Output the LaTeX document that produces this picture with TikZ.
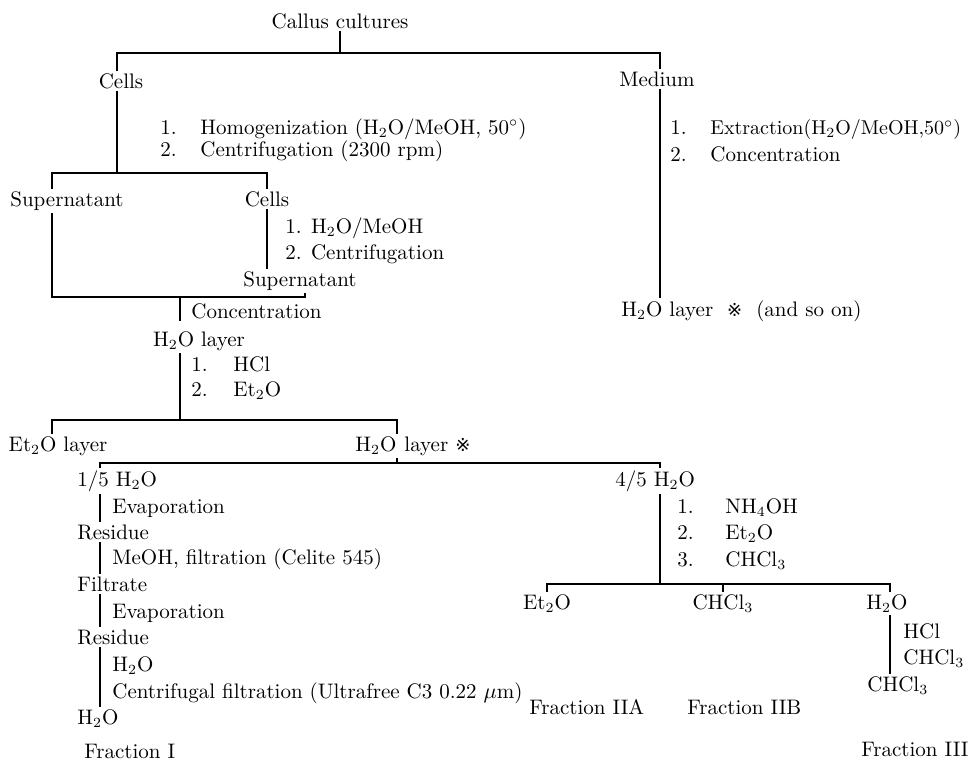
\documentclass[tikz,border=0pt]{standalone}
\usepackage{fontspec}
\newfontfamily\marksym{DejaVu Sans}
\usetikzlibrary{calc}
\tikzstyle{stage}=[inner sep=1pt,font=\fontsize{10.5}{12}\selectfont,anchor=mid]
\tikzstyle{stageleft}=[stage,anchor=mid west]
\tikzstyle{cond}=[stage,anchor=mid west]
\tikzstyle{flow}=[draw,line width=0.7pt]
\newcommand{\numbox}[2][20pt]{\makebox[#1][l]{#2}}
\newcommand{\refmark}{{\marksym\fontsize{9}{10}\selectfont ※}}

\begin{document}
\begin{tikzpicture}[x=0.5pt,y=-0.5pt]
    \useasboundingbox (0,0) rectangle (971,762);
    % First we draw the products
    \foreach \pos/\name/\txt in {{(340,24)/callus/{Callus cultures}},{(121,84)/cells/Cells},
        {(657,82)/medium/Medium},{(67,202)/supL/Supernatant},{(267,202)/cellsB/Cells},
        {(300,282)/supR/Supernatant},{(199,342)/waterA/{H$_2$O layer}},
        {(58,447)/etherL/{Et$_2$O layer}},{(547,605)/etherR/{Et$_2$O}},
        {(723,605)/chloro/{CHCl$_3$}},{(887,605)/waterR/{H$_2$O}}}
        \node[stage] (\name) at \pos {\txt};

    \foreach \pos/\name/\txt in {{(353,447)/waterB/{H$_2$O\hspace{4pt}layer \refmark}},
        {(619,312)/waterMed/{H$_2$O layer\ \ \refmark\ \ (and so on)}},
        {(75,482)/fifthA/{1/5 H$_2$O}},{(75,535)/resA/Residue},{(75,587)/filtrate/Filtrate},
        {(75,640)/resB/Residue},{(75,720)/waterC/{H$_2$O}},{(82,754)/fracI/{Fraction I}},
        {(613,482)/fifthB/{4/5 H$_2$O}},{(865,687)/chloroB/{CHCl$_3$}},
        {(527,710)/fracIIA/{Fraction IIA}},{(685,710)/fracIIB/{Fraction IIB}},
        {(859,752)/fracIII/{Fraction III}}}
        \node[stageleft] (\name) at \pos {\txt};

    % Then the conditions beside the lines
    \node[cond] (conc) at (189,314) {Concentration};
    \foreach \pos/\txt [count=\i] in {{(158,130)/{\numbox{1.}Homogenization (H$_2$O/MeOH, 50$^\circ$)}},
        {(158,152)/{\numbox{2.}Centrifugation (2300 rpm)}},
        {(668,130)/{\numbox{1.}{\fontsize{10}{12}\selectfont Extraction(H$_2$O/MeOH,50$^\circ$)}}},
        {(668,157)/{\numbox{2.}Concentration}},
        {(283,229)/{1. H$_2$O/MeOH}},{(283,255)/{2. Centrifugation}},
        {(189,367)/{\numbox[21pt]{1.}HCl}},{(189,392)/{\numbox[21pt]{2.}Et$_2$O}},
        {(110,509)/Evaporation},{(110,560)/{MeOH, filtration (Celite 545)}},
        {(110,614)/Evaporation},{(110,667)/{H$_2$O}},
        {(110,694)/{Centrifugal filtration (Ultrafree C3 0.22 $\mu$m)}},
        {(675,509)/{\numbox[24pt]{1.}NH$_4$OH}},{(675,535)/{\numbox[24pt]{2.}Et$_2$O}},
        {(675,562)/{\numbox[24pt]{3.}CHCl$_3$}},
        {(901,634)/HCl},{(901,660)/{CHCl$_3$}}}
        \node[cond] (cond\i) at \pos {\txt};

    % Junctions and columns of the lines
    \coordinate (j1) at (340,53);
    \coordinate (j2) at (117,173);
    \coordinate (j3) at (180,297);
    \coordinate (j4) at (180,420);
    \coordinate (j5) at (397,463);
    \coordinate (j6) at (660,584);
    \coordinate (xsup) at (52,0);
    \coordinate (xsupR) at (305,0);
    \coordinate (xleft) at (100,0);
    \coordinate (xwaterR) at (890,0);

    % Connect the stages
    \draw[flow] (callus) -- (j1);
    \draw[flow] (cells.north -| j2) |- (j1) -| (medium.north -| j6);
    \draw[flow] (cells.south -| j2) -- (j2);
    \draw[flow] (supL.north -| xsup) |- (j2) -| (cellsB.north);
    \draw[flow] (cellsB.south) -- (cellsB.south |- supR.north);
    \draw[flow] (supL.south -| xsup) |- (j3) -| (supR.south -| xsupR);
    \draw[flow] (j3) -- (j3 |- conc.south);
    \draw[flow] (waterA.south -| j4) -- (j4);
    \draw[flow] (etherL.north -| xsup) |- (j4) -| (waterB.north -| j5);
    \draw[flow] (waterB.south -| j5) -- (j5);
    \draw[flow] (fifthA.north -| xleft) |- (j5) -| (fifthB.north -| j6);
    \foreach \source/\dest in {fifthA/resA, resA/filtrate, filtrate/resB, resB/waterC}
        \draw[flow] (\source.south -| xleft) -- (\dest.north -| xleft);
    \draw[flow] (fifthB.south -| j6) -- (j6);
    \draw[flow] (etherR.north) |- (j6) -| (waterR.north -| xwaterR);
    \draw[flow] (chloro.north) -- (chloro.north |- j6);
    \draw[flow] (waterR.south -| xwaterR) -- (chloroB.north -| xwaterR);
    \draw[flow] (medium.south -| j6) -- (waterMed.north -| j6);
\end{tikzpicture}
\end{document}
